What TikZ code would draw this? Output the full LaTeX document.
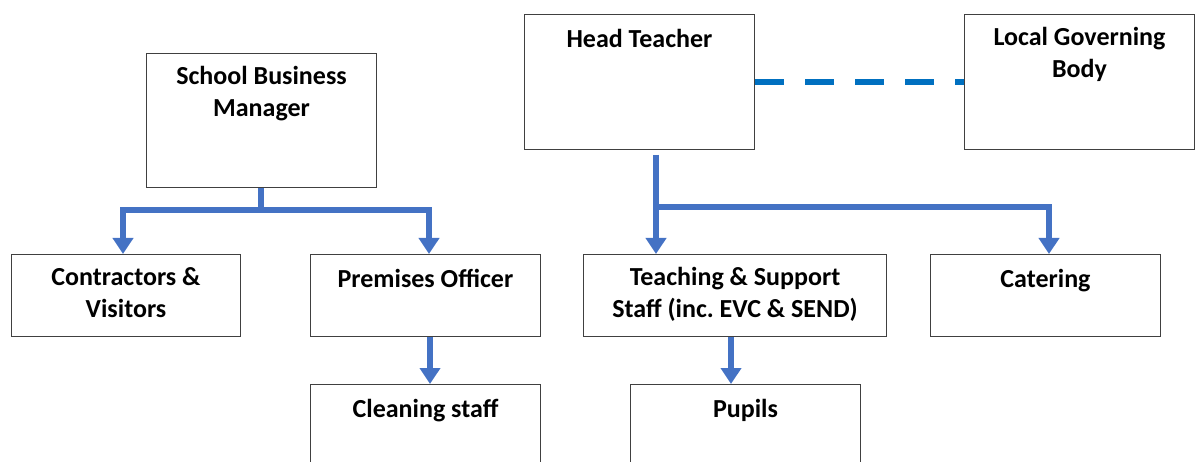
\documentclass[tikz,border=0pt]{standalone}
\usepackage{fontspec}
\setmainfont{Carlito}
\usetikzlibrary{arrows.meta}
\definecolor{linkblue}{HTML}{4472C4}
\definecolor{dashblue}{HTML}{0070C0}
\definecolor{boxgray}{HTML}{404040}
\tikzset{
  box/.style={draw=boxgray, line width=1pt, anchor=north west, inner sep=0pt},
  title/.style={anchor=north, inner sep=0pt, yshift=-13.5pt, align=center,
    font=\bfseries\fontsize{26}{32}\selectfont,
    execute at begin node={\rule{0pt}{20pt}}},
  link/.style={draw=linkblue, line width=6pt},
  linkarrow/.style={link, -{Triangle[width=20pt,length=16pt]}},
}
\begin{document}
\begin{tikzpicture}[x=1pt,y=-1pt]
        \useasboundingbox (0,0) rectangle (1199,462);
        % boxes
        \node [box, minimum width=230pt, minimum height=134pt] (sbm) at (146,53) {}; % school business manager
        \node [box, minimum width=230pt, minimum height=135pt] (ht) at (524,14) {}; % head teacher
        \node [box, minimum width=230pt, minimum height=135pt] (lgb) at (964,14) {}; % local governing body
        \node [box, minimum width=229pt, minimum height=82pt] (cv) at (11,254) {}; % contractors
        \node [box, minimum width=230pt, minimum height=82pt] (po) at (310,254) {}; % premises officer
        \node [box, minimum width=303pt, minimum height=82pt] (tss) at (583,254) {}; % teaching staff
        \node [box, minimum width=230pt, minimum height=82pt] (cat) at (930,254) {}; % catering
        \node [box, minimum width=230pt, minimum height=100pt] (cs) at (310,384) {}; % cleaning staff
        \node [box, minimum width=230pt, minimum height=100pt] (pup) at (630,384) {}; % pupils
        % titles
        \node [title] (sbm-t) at (sbm.north) {School Business\\Manager};
        \node [title] (ht-t) at (ht.north) {Head Teacher};
        \node [title] (lgb-t) at (lgb.north) {Local Governing\\Body};
        \node [title] (cv-t) at (cv.north) {Contractors \&\\Visitors};
        \node [title] (po-t) at (po.north) {Premises Officer};
        \node [title] (tss-t) at (tss.north) {Teaching \& Support\\Staff (inc.\ EVC \& SEND)};
        \node [title] (cat-t) at (cat.north) {Catering};
        \node [title] (cs-t) at (cs.north) {Cleaning staff};
        \node [title] (pup-t) at (pup.north) {Pupils};
        % connectors
        \coordinate (sbm-j) at (261,210);
        \coordinate (cv-in) at (123,254);
        \coordinate (po-in) at (429,254);
        \draw [link] (sbm.south -| sbm-j) -- (sbm-j);
        \draw [linkarrow] (sbm-j) -| (cv-in);
        \draw [linkarrow] (sbm-j) -| (po-in);
        \coordinate (ht-out) at (656,155);
        \coordinate (tss-in) at (656,254);
        \coordinate (cat-in) at (1049,254);
        \draw [linkarrow] (ht-out) -- (tss-in);
        \draw [linkarrow] (ht-out) |- (1049,207) -- (cat-in);
        \draw [linkarrow] (po.south -| 430,0) -- (cs.north -| 430,0);
        \draw [linkarrow] (tss.south -| 731,0) -- (pup.north -| 731,0);
        \draw [draw=dashblue, line width=6pt, dash pattern=on 29pt off 21pt] (ht.east |- 0,82) -- (lgb.west |- 0,82);
\end{tikzpicture}
\end{document}
